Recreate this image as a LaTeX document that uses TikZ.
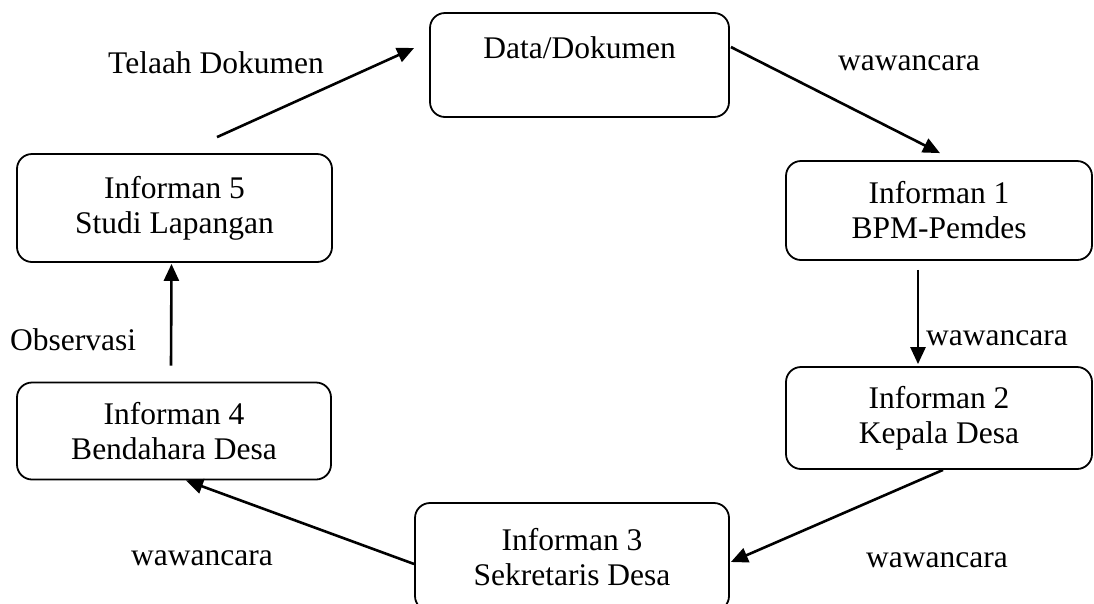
\documentclass[tikz,border=0pt]{standalone}
\usepackage{fontspec}
\setmainfont{Liberation Serif}
\usetikzlibrary{arrows.meta}
\begin{document}
\begin{tikzpicture}[x=1pt,y=-1pt,
  box/.style={draw, line width=1.8pt, rounded corners=15pt, inner sep=0pt, align=center, font=\fontsize{31.5}{35}\selectfont},
  lbl/.style={inner sep=0pt, font=\fontsize{31.5}{35}\selectfont},
  arr/.style={line width=2.6pt, -{Triangle[length=17pt,width=15pt]}}]
\useasboundingbox (0,0) rectangle (1094,603);
\fill[white] (0,0) rectangle (1094,603);
\clip (0,0) rectangle (1094,603);
\node[box, minimum width=299pt, minimum height=104pt] (data) at (579.5,65) {Data/Dokumen\\ \mbox{}};
\node[box, minimum width=306pt, minimum height=99pt] (inf1) at (939,210.5) {Informan 1\\BPM-Pemdes};
\node[box, minimum width=306pt, minimum height=102pt] (inf2) at (939,418) {Informan 2\\Kepala Desa};
\node[box, minimum width=314pt, minimum height=108pt] (inf3) at (572,557) {Informan 3\\Sekretaris Desa};
\node[box, minimum width=314pt, minimum height=97pt] (inf4) at (174,431) {Informan 4\\Bendahara Desa};
\node[box, minimum width=315pt, minimum height=108pt] (inf5) at (174.5,208) {Informan 5\\Studi Lapangan};

\draw[arr] ([shift={(42.5,-16)}]inf5.north) -- ([shift={(-15,-17)}]data.west);
\draw[arr] ([shift={(1,-18)}]data.east) -- ([shift={(1,-7)}]inf1.north);
\draw[arr] ([shift={(-21,9)}]inf1.south) -- ([shift={(-21,-2)}]inf2.north);
\draw[arr] ([shift={(4,0)}]inf2.south) -- ([shift={(1,5)}]inf3.east);
\draw[arr] ([shift={(0,7)}]inf3.west) -- ([shift={(12,0)}]inf4.south);
\draw[arr] ([shift={(-3,-16)}]inf4.north) -- ([shift={(-3,1)}]inf5.south);

\node[lbl] (l1) at (216,63) {Telaah Dokumen};
\node[lbl] (l2) at (909,63) {wawancara};
\node[lbl, anchor=west] (l3) at (926,338) {wawancara};
\node[lbl] (l4) at (937,560) {wawancara};
\node[lbl] (l5) at (202,558) {wawancara};
\node[lbl, anchor=west] (l6) at (10,340) {Observasi};
\end{tikzpicture}
\end{document}
